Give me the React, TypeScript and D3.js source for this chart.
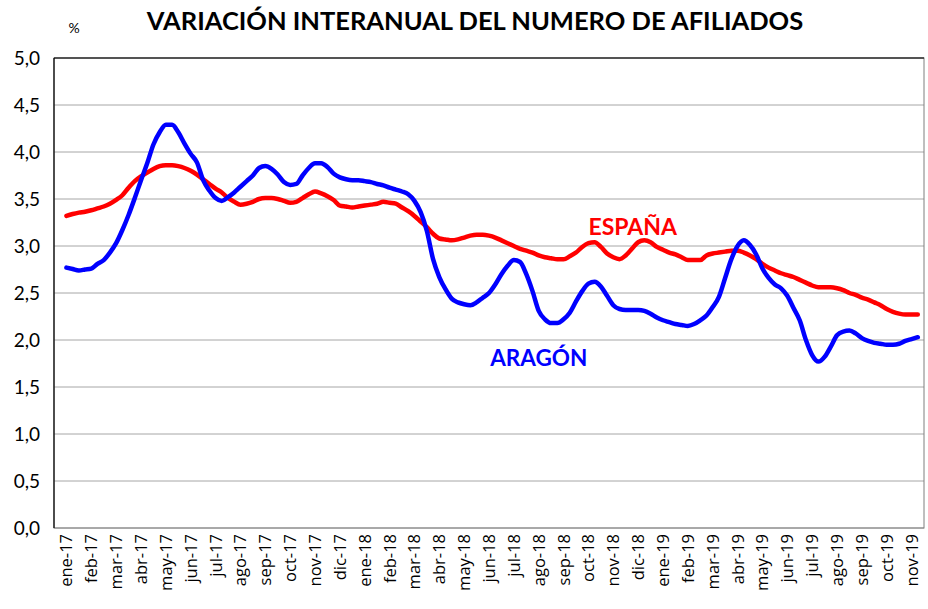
import React, { useEffect, useRef } from "react";
import * as d3 from "d3";

// month categories on the x axis
const months = [
  "ene-17", "feb-17", "mar-17", "abr-17", "may-17", "jun-17", "jul-17", "ago-17", "sep-17", "oct-17", "nov-17", "dic-17",
  "ene-18", "feb-18", "mar-18", "abr-18", "may-18", "jun-18", "jul-18", "ago-18", "sep-18", "oct-18", "nov-18", "dic-18",
  "ene-19", "feb-19", "mar-19", "abr-19", "may-19", "jun-19", "jul-19", "ago-19", "sep-19", "oct-19", "nov-19",
];

// readings every quarter of a month, starting at ene-17
const STEP = 0.25;

const espana = [
  3.32, 3.34, 3.355, 3.365, 3.38, 3.40, 3.42, 3.45, 3.49, 3.54, 3.62, 3.69, 3.74, 3.78, 3.82, 3.85,
  3.86, 3.86, 3.85, 3.83, 3.80, 3.76, 3.71, 3.66, 3.61, 3.57, 3.51, 3.47, 3.44, 3.45, 3.47, 3.50,
  3.51, 3.51, 3.50, 3.48, 3.46, 3.47, 3.51, 3.55, 3.58, 3.56, 3.53, 3.49, 3.43, 3.42, 3.41, 3.42,
  3.43, 3.44, 3.45, 3.47, 3.46, 3.45, 3.41, 3.37, 3.32, 3.26, 3.20, 3.13, 3.08, 3.07, 3.06, 3.07,
  3.09, 3.11, 3.12, 3.12, 3.11, 3.09, 3.06, 3.03, 3.00, 2.97, 2.95, 2.93, 2.90, 2.88, 2.87, 2.86,
  2.86, 2.89, 2.93, 2.99, 3.03, 3.04, 2.99, 2.92, 2.88, 2.86, 2.90, 2.97, 3.04, 3.06, 3.04, 2.99,
  2.96, 2.93, 2.91, 2.88, 2.85, 2.85, 2.85, 2.90, 2.92, 2.93, 2.94, 2.95, 2.95, 2.93, 2.90, 2.86,
  2.81, 2.77, 2.74, 2.71, 2.69, 2.67, 2.64, 2.61, 2.58, 2.56, 2.56, 2.56, 2.55, 2.53, 2.50, 2.48,
  2.45, 2.43, 2.40, 2.37, 2.33, 2.30, 2.28, 2.27, 2.27, 2.27,
];

const aragon = [
  2.77, 2.755, 2.74, 2.75, 2.76, 2.81, 2.85, 2.93, 3.03, 3.17, 3.33, 3.51, 3.70, 3.88, 4.08, 4.21,
  4.29, 4.29, 4.21, 4.09, 3.98, 3.89, 3.70, 3.59, 3.51, 3.48, 3.52, 3.57, 3.63, 3.69, 3.75, 3.83,
  3.85, 3.82, 3.76, 3.68, 3.65, 3.66, 3.75, 3.83, 3.88, 3.88, 3.84, 3.77, 3.73, 3.71, 3.70, 3.70,
  3.69, 3.68, 3.66, 3.645, 3.62, 3.60, 3.58, 3.55, 3.48, 3.36, 3.16, 2.86, 2.67, 2.54, 2.44, 2.40,
  2.38, 2.37, 2.40, 2.45, 2.50, 2.59, 2.70, 2.79, 2.85, 2.83, 2.70, 2.52, 2.31, 2.22, 2.18, 2.18,
  2.22, 2.29, 2.41, 2.52, 2.60, 2.62, 2.57, 2.47, 2.37, 2.33, 2.32, 2.32, 2.32, 2.31, 2.28, 2.24,
  2.21, 2.19, 2.17, 2.16, 2.15, 2.17, 2.21, 2.26, 2.35, 2.46, 2.66, 2.86, 3.00, 3.06, 3.01, 2.91,
  2.76, 2.66, 2.59, 2.55, 2.47, 2.34, 2.21, 2.00, 1.84, 1.77, 1.82, 1.93, 2.05, 2.09, 2.10, 2.07,
  2.02, 1.99, 1.97, 1.96, 1.95, 1.95, 1.96, 1.99, 2.01, 2.03,
];

const yTicks = [0, 0.5, 1, 1.5, 2, 2.5, 3, 3.5, 4, 4.5, 5];

const W = 928;
const H = 609;
const margin = { top: 58, right: 4, bottom: 81, left: 54 };

export default function App() {
  const ref = useRef<SVGSVGElement>(null);

  useEffect(() => {
    const svg = d3.select(ref.current);
    svg.selectAll("*").remove();

    const width = W - margin.left - margin.right;
    const height = H - margin.top - margin.bottom;

    const x = d3.scaleBand().domain(months).range([0, width]);
    // fractional month index -> pixel, centred on the band
    const xt = d3
      .scaleLinear()
      .domain([-0.5, months.length - 0.5])
      .range([0, width]);
    const y = d3.scaleLinear().domain([0, 5]).range([height, 0]);

    const g = svg
      .append("g")
      .attr("transform", "translate(" + margin.left + "," + margin.top + ")");

    // gridlines
    g.selectAll(".grid")
      .data(yTicks)
      .enter()
      .append("line")
      .attr("x1", 0)
      .attr("x2", width)
      .attr("y1", (d) => y(d))
      .attr("y2", (d) => y(d))
      .attr("stroke", "#a6a6a6")
      .attr("stroke-width", 1);

    g.append("rect")
      .attr("x", 0)
      .attr("y", 0)
      .attr("width", width)
      .attr("height", height)
      .attr("fill", "none")
      .attr("stroke", "#7f7f7f");
    g.append("line")
      .attr("x1", 0)
      .attr("x2", 0)
      .attr("y1", 0)
      .attr("y2", height)
      .attr("stroke", "#000")
      .attr("stroke-width", 1.2);
    g.append("line")
      .attr("x1", 0)
      .attr("x2", width)
      .attr("y1", 0)
      .attr("y2", 0)
      .attr("stroke", "#000");

    // y labels
    g.selectAll(".ylab")
      .data(yTicks)
      .enter()
      .append("text")
      .attr("x", -14)
      .attr("y", (d) => y(d))
      .attr("dy", "0.35em")
      .attr("text-anchor", "end")
      .attr("font-family", "Lato, sans-serif")
      .attr("font-size", 19)
      .attr("fill", "#000")
      .text((d) => d3.format(".1f")(d).replace(".", ","));

    // x labels, rotated
    g.selectAll(".xlab")
      .data(months)
      .enter()
      .append("text")
      .attr(
        "transform",
        (d) =>
          "translate(" + (x(d)! + x.bandwidth() / 2 + 6) + "," + (height + 6) + ") rotate(-90)"
      )
      .attr("text-anchor", "end")
      .attr("font-family", "'Open Sans', sans-serif")
      .attr("font-size", 16.5)
      .attr("fill", "#000")
      .text((d) => d);

    const line = d3
      .line<number>()
      .x((d, i) => xt(i * STEP))
      .y((d) => y(d))
      .curve(d3.curveMonotoneX);

    g.append("path")
      .datum(espana)
      .attr("fill", "none")
      .attr("stroke", "#ff0000")
      .attr("stroke-width", 4.5)
      .attr("stroke-linejoin", "round")
      .attr("stroke-linecap", "round")
      .attr("d", line);

    g.append("path")
      .datum(aragon)
      .attr("fill", "none")
      .attr("stroke", "#0000ff")
      .attr("stroke-width", 4.5)
      .attr("stroke-linejoin", "round")
      .attr("stroke-linecap", "round")
      .attr("d", line);

    // series labels
    g.append("text")
      .attr("x", xt(21.0))
      .attr("y", y(3.12))
      .attr("font-family", "Lato, sans-serif")
      .attr("font-weight", "bold")
      .attr("font-size", 23)
      .attr("fill", "#ff0000")
      .text("ESPAÑA");

    g.append("text")
      .attr("x", xt(17.05))
      .attr("y", y(1.72))
      .attr("font-family", "Lato, sans-serif")
      .attr("font-weight", "bold")
      .attr("font-size", 22.5)
      .attr("fill", "#0000ff")
      .text("ARAGÓN");

    // title and unit
    svg
      .append("text")
      .attr("x", 475)
      .attr("y", 30)
      .attr("text-anchor", "middle")
      .attr("font-family", "Lato, sans-serif")
      .attr("font-weight", "bold")
      .attr("font-size", 25.5)
      .attr("fill", "#000")
      .text("VARIACIÓN INTERANUAL DEL NUMERO DE AFILIADOS");

    svg
      .append("text")
      .attr("x", 74)
      .attr("y", 33)
      .attr("text-anchor", "middle")
      .attr("font-family", "Lato, sans-serif")
      .attr("font-size", 14)
      .attr("fill", "#000")
      .text("%");
  }, []);

  return (
    <svg
      ref={ref}
      width={W}
      height={H}
      style={{ position: "absolute", left: 0, top: 0, background: "#fff" }}
    />
  );
}
